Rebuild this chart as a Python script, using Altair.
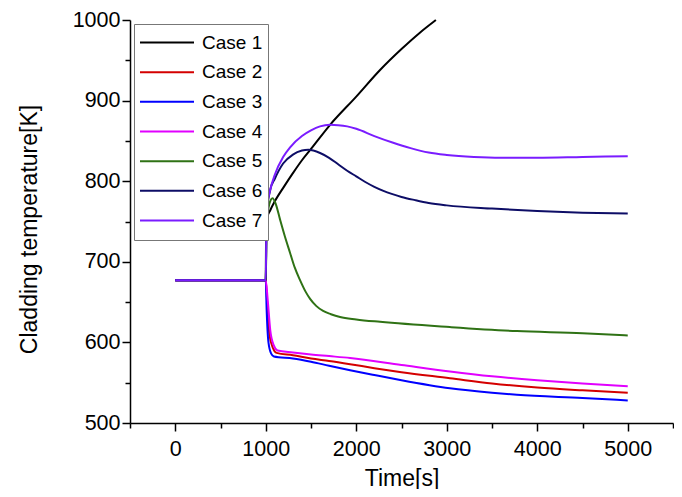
import altair as alt
import pandas as pd

FONT = "Liberation Sans"

case_names = ["Case 1", "Case 2", "Case 3", "Case 4", "Case 5", "Case 6", "Case 7"]
case_colors = ["#000000", "#D40000", "#0000FF", "#E100FF", "#2F7215", "#0D0D66", "#7A1CFF"]

# steady state before the transient (all cases)
pre_t = [0, 1000]
pre_T = [677, 677]

t_case1 = [1005, 1050, 1100, 1200, 1300, 1400, 1500, 1711, 2000, 2263, 2500, 2700, 2880]
T_case1 = [752, 764, 775, 793, 810, 826, 840, 870, 905, 938, 964, 984, 1000]

t_case2 = [1015, 1040, 1080, 1120, 1300, 1500, 1700, 1932, 2200, 2500, 3035, 3500, 4000, 4500, 5000]
T_case2 = [650, 610, 593, 587, 584, 580, 577, 573, 568, 563, 555.6, 549, 544, 540.5, 537.5]

t_case3 = [1010, 1030, 1060, 1090, 1300, 1500, 1700, 1932, 2200, 2500, 3035, 3500, 3775, 4500, 5000]
T_case3 = [640, 600, 586, 582.5, 580, 576, 571, 565.5, 559.5, 553, 543, 537.5, 535, 531, 528]

t_case4 = [1020, 1050, 1090, 1130, 1300, 1500, 1700, 1932, 2500, 3035, 3500, 4000, 4500, 5000]
T_case4 = [655, 615, 596, 590, 587.5, 585, 583, 580.6, 572, 564, 558, 553, 549, 545.5]

t_case5 = [1010, 1040, 1075, 1110, 1159, 1210, 1269, 1320, 1380, 1440, 1490, 1560, 1634, 1720, 1821, 2000, 2263, 3035, 3775, 4500, 5000]
T_case5 = [740, 772, 779, 772, 752, 732, 711, 693, 677, 663, 654, 645, 639, 635, 631.5, 628.5, 625.5, 619, 614, 611.5, 608.5]

t_case6 = [1010, 1049, 1100, 1192, 1300, 1400, 1470, 1600, 1700, 1800, 1900, 2000, 2100, 2200, 2300, 2400, 2500, 2650, 2800, 3000, 3500, 4000, 4500, 5000]
T_case6 = [760, 789, 803, 822, 833, 838, 839, 835, 829, 821, 813, 806, 799, 793, 788, 784, 780.5, 776.5, 773, 770, 766, 763, 761, 760]

t_case7 = [1010, 1049, 1100, 1192, 1269, 1400, 1500, 1600, 1711, 1800, 1900, 2000, 2200, 2400, 2600, 2800, 3000, 3300, 3600, 4000, 4500, 5000]
T_case7 = [765, 789, 808, 830, 842, 856, 863, 868, 870, 869.5, 868, 865, 856, 848, 841, 835.5, 832.5, 830, 829, 829, 830, 831]

x_ticks = list(range(-500, 5501, 500))
y_ticks = list(range(500, 1001, 50))

series_t = [t_case1, t_case2, t_case3, t_case4, t_case5, t_case6, t_case7]
series_T = [T_case1, T_case2, T_case3, T_case4, T_case5, T_case6, T_case7]

rows = []
for name, ts, Ts in zip(case_names, series_t, series_T):
    all_t = pre_t + ts
    all_T = pre_T + Ts
    for i, (a, b) in enumerate(zip(all_t, all_T)):
        rows.append({"case": name, "t": a, "T": b, "idx": i})
df = pd.DataFrame(rows)

axis_common = dict(
    grid=False,
    domainColor="black",
    domainWidth=1.5,
    tickColor="black",
    tickWidth=1.5,
    labelFont=FONT,
    labelFontSize=21.5,
    labelColor="black",
    titleFont=FONT,
    titleFontSize=23,
    titleFontWeight="normal",
    titleColor="black",
    labelOverlap=False,
    labelFlush=False,
    format="d",
)

x_axis = alt.Axis(
    values=x_ticks,
    labelExpr="datum.value % 1000 === 0 ? datum.label : ''",
    tickSize={"condition": {"test": "datum.value % 1000 !== 0", "value": 5}, "value": 8},
    labelPadding=7,
    title="Time[s]",
    titleY=62,
    titleBaseline="alphabetic",
    **axis_common,
)

y_axis = alt.Axis(
    values=y_ticks,
    labelExpr="datum.value % 100 === 0 ? datum.label : ''",
    tickSize={"condition": {"test": "datum.value % 100 !== 0", "value": 5}, "value": 8},
    labelPadding=2,
    title="Cladding temperature[K]",
    titleX=-94,
    titleY=209,
    titleBaseline="alphabetic",
    **axis_common,
)

legend = alt.Legend(
    title=None,
    orient="none",
    legendX=4,
    legendY=4,
    symbolType="stroke",
    symbolSize=2916,
    symbolStrokeWidth=2,
    clipHeight=27,
    rowPadding=2.67,
    padding=5,
    labelOffset=7,
    labelFont=FONT,
    labelFontSize=19,
    labelColor="black",
    strokeColor="#777777",
    fillColor="white",
)

chart = alt.Chart(df).mark_line(strokeWidth=2, interpolate="monotone").encode(
    x=alt.X("t:Q", scale=alt.Scale(domain=[-500, 5500], nice=False, zero=False), axis=x_axis),
    y=alt.Y("T:Q", scale=alt.Scale(domain=[500, 1000], nice=False, zero=False), axis=y_axis),
    color=alt.Color("case:N", scale=alt.Scale(domain=case_names, range=case_colors), legend=legend),
    order=alt.Order("idx:Q"),
).properties(
    width=543,
    height=403,
    padding={"left": 122, "top": 12, "right": 1, "bottom": 66},
    autosize=alt.AutoSizeParams(type="none"),
).configure_view(stroke=None)

chart.save("out.html", embed_options={"renderer": "svg", "actions": False})
